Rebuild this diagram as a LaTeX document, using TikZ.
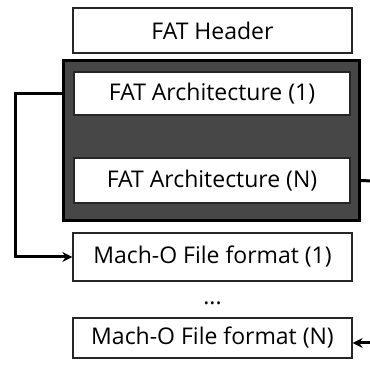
\documentclass[tikz,border=0pt]{standalone}
\usepackage{fontspec}
\setmainfont{Open Sans}
\usetikzlibrary{arrows.meta,calc}
\begin{document}
\begin{tikzpicture}[x=1pt,y=1pt,
  wbox/.style={draw=black!85,line width=1.2pt,fill=white,inner sep=0pt,font=\fontsize{23}{26}\selectfont},
  darkbox/.style={draw=black,line width=3pt,fill=black!72,inner sep=0pt},
  conn/.style={line width=3pt,draw=black},
  arr/.style={conn,-{Stealth[length=10pt,width=10pt]}}]
\useasboundingbox (0,0) rectangle (370,366);
\node[wbox,minimum width=279,minimum height=45] (header) at (212.5,335.5) {FAT Header};
\node[darkbox,minimum width=296,minimum height=160] (dark) at (211,225) {};
\node[wbox,minimum width=276,minimum height=43] (arch1) at (212,272.5) {FAT Architecture (1)};
\node[wbox,minimum width=276,minimum height=45] (archN) at (212,185.5) {FAT Architecture (N)};
\node[wbox,minimum width=279,minimum height=48] (mach1) at (212.5,109) {Mach-O File format (1)};
\node[font=\fontsize{23}{26}\selectfont] (dots) at (212.5,63) {...};
\node[wbox,minimum width=279,minimum height=40] (machN) at (212.5,28) {Mach-O File format (N)};
\coordinate (lft) at (15,0);
\coordinate (rtop) at (372,185);
\coordinate (rbot) at (372,23);
\draw[arr] (arch1.west -| dark.west) -- (arch1.west -| lft) |- (mach1.west);
\draw[conn] (archN.east -| dark.east) -- (rtop);
\draw[arr] (rbot) -- (rbot -| machN.east);
\end{tikzpicture}
\end{document}
